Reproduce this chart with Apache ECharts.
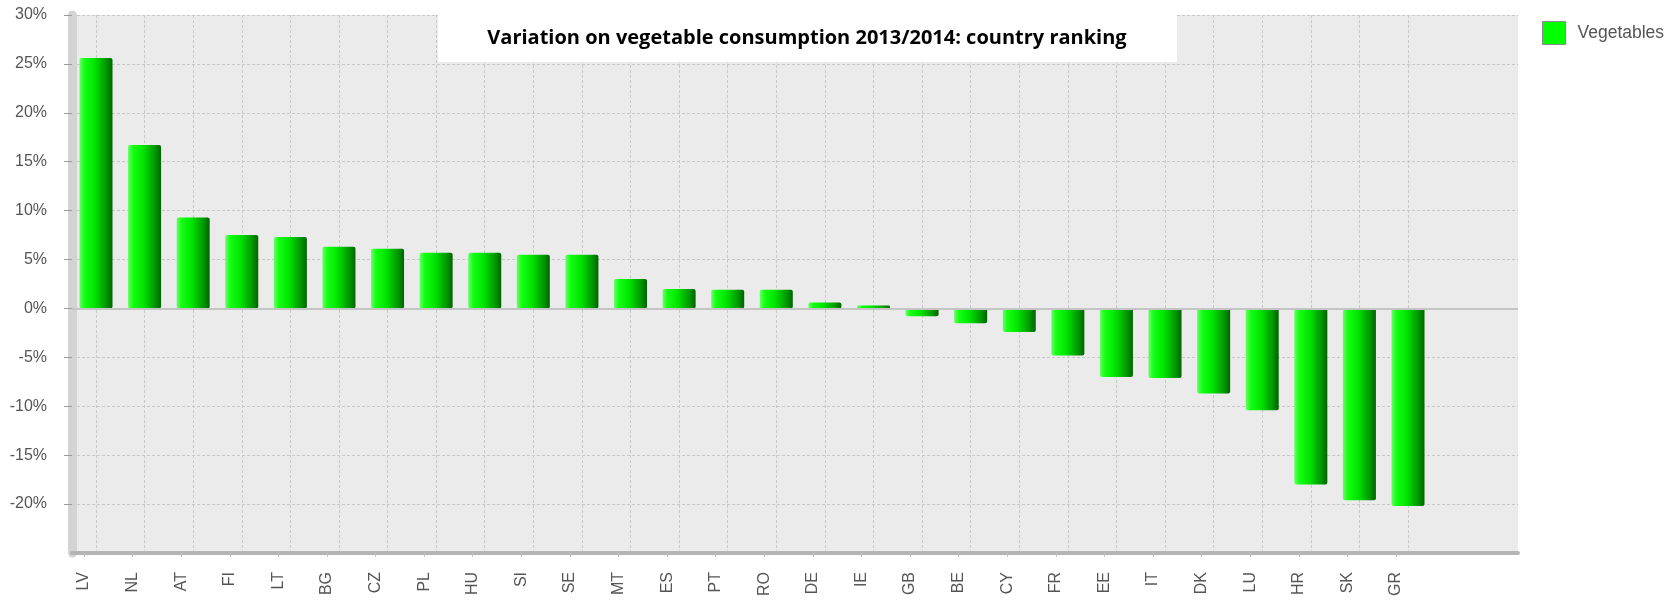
<!DOCTYPE html>
<html>
<head>
<meta charset="utf-8">
<title>Vegetable consumption 2013/2014</title>
<script src="https://cdn.jsdelivr.net/npm/echarts@6/dist/echarts.min.js"></script>
<style>
  html, body { margin: 0; padding: 0; background: #fff; }
  #chart { width: 1675px; height: 600px; }
</style>
</head>
<body>
<div id="chart"></div>
<script>
// data (variation in %)
const countries = ['LV', 'NL', 'AT', 'FI', 'LT', 'BG', 'CZ', 'PL', 'HU', 'SI', 'SE', 'MT', 'ES', 'PT',
  'RO', 'DE', 'IE', 'GB', 'BE', 'CY', 'FR', 'EE', 'IT', 'DK', 'LU', 'HR', 'SK', 'GR']
const vegetables = [25.6, 16.7, 9.3, 7.5, 7.3, 6.3, 6.1, 5.7, 5.7, 5.5, 5.5, 3.0, 2.0, 1.9,
  1.9, 0.6, 0.3, -0.8, -1.5, -2.4, -4.8, -7.0, -7.1, -8.7, -10.4, -18.0, -19.6, -20.2]
const yMin = -25
const yMax = 30
const yStep = 5

const font = 'Liberation Sans'
const gridColor = '#c8c8c8'

const chart = echarts.init(document.getElementById('chart'))

chart.setOption({
  animation: false,
  backgroundColor: '#fff',
  grid: [
    // back wall
    { left: 72, top: 15, width: 1446, height: 538, show: true, backgroundColor: '#ebebeb', borderWidth: 0 },
    // bars, categories sit on the vertical grid lines
    { left: 96, top: 15, width: 1312, height: 538 },
    // category labels, shifted a bit left like the 3d skew of the original
    { left: 84, top: 15, width: 1312, height: 538 }
  ],
  xAxis: [
    {
      gridIndex: 0, type: 'value', min: 0, max: 1,
      axisLine: { show: true, onZero: false, lineStyle: { color: '#b4b4b4', width: 4 } },
      axisTick: { show: false }, axisLabel: { show: false }, splitLine: { show: false }
    },
    {
      gridIndex: 1, type: 'category', data: countries, boundaryGap: false,
      axisLine: { show: false }, axisTick: { show: false }, axisLabel: { show: false },
      splitLine: { show: true, interval: 0, lineStyle: { color: gridColor, type: [3, 2] } }
    },
    {
      gridIndex: 2, type: 'category', data: countries, boundaryGap: false,
      axisLine: { show: false, onZero: false },
      axisTick: { show: true, length: 4, interval: 0, lineStyle: { color: '#c4c4c4' } },
      axisLabel: { interval: 0, rotate: 90, margin: 19, fontFamily: font, fontSize: 16, color: '#555' },
      splitLine: { show: false }
    }
  ],
  yAxis: [
    {
      gridIndex: 0, type: 'value', min: yMin, max: yMax, interval: yStep, offset: 5,
      axisLine: { show: true, lineStyle: { color: '#d3d3d3', width: 9 } },
      axisTick: { show: true, length: 8, lineStyle: { color: '#999' } },
      axisLabel: {
        margin: 20, fontFamily: font, fontSize: 16, color: '#555', formatter: '{value}%',
        showMinLabel: false
      },
      splitLine: { show: true, lineStyle: { color: gridColor, type: [3, 2] } }
    },
    { gridIndex: 1, type: 'value', min: yMin, max: yMax, interval: yStep, show: false },
    { gridIndex: 2, type: 'value', min: yMin, max: yMax, interval: yStep, show: false }
  ],
  legend: {
    left: 1542, top: 21, padding: 0,
    icon: 'rect', itemWidth: 23, itemHeight: 23,
    itemStyle: { color: '#00ff00', borderColor: '#8a8a8a', borderWidth: 1 },
    textStyle: { fontFamily: font, fontSize: 17.5, color: '#555', padding: [0, 0, 0, 7] },
    data: ['Vegetables']
  },
  graphic: [
    { type: 'rect', left: 438, top: 13, shape: { width: 739, height: 49 }, style: { fill: '#fff' }, z: 10 },
    {
      type: 'text', x: 807, y: 38, z: 11,
      style: {
        text: 'Variation on vegetable consumption 2013/2014: country ranking',
        fontFamily: 'Open Sans', fontWeight: 'bold', fontSize: 20, fill: '#000',
        align: 'center', verticalAlign: 'middle'
      }
    }
  ],
  series: [
    {
      // only carries the solid zero line across the whole back wall
      type: 'line', xAxisIndex: 0, yAxisIndex: 0, data: [],
      markLine: {
        silent: true, symbol: 'none', label: { show: false },
        lineStyle: { color: '#c4c4c4', width: 2, type: 'solid' },
        data: [{ yAxis: 0 }]
      }
    },
    {
      name: 'Vegetables',
      type: 'bar',
      xAxisIndex: 1, yAxisIndex: 1,
      data: vegetables,
      barWidth: 33,
      clip: false,
      itemStyle: {
        borderRadius: 2,
        color: new echarts.graphic.LinearGradient(0, 0, 1, 0, [
          { offset: 0, color: '#66ff66' },
          { offset: 0.15, color: '#14ff14' },
          { offset: 0.45, color: '#00e600' },
          { offset: 0.8, color: '#009a00' },
          { offset: 1, color: '#006400' }
        ])
      }
    }
  ]
})
</script>
</body>
</html>
